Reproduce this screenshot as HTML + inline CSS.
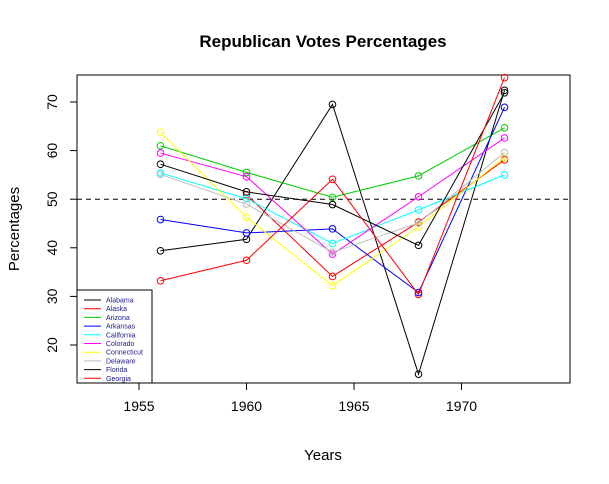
<!DOCTYPE html>
<html><head><meta charset="utf-8"><style>body{margin:0;background:#fff}svg{display:block;font-family:"Liberation Sans",Arial,sans-serif}</style></head>
<body>
<svg id="chart" width="609" height="484" xmlns="http://www.w3.org/2000/svg">
<rect width="609" height="484" fill="#fff"/>
<text x="323" y="47" font-size="17" font-weight="bold" text-anchor="middle">Republican Votes Percentages</text>
<text x="323" y="460" font-size="15" text-anchor="middle">Years</text>
<text transform="translate(19,229) rotate(-90)" font-size="15" text-anchor="middle">Percentages</text>
<g id="axes"></g><g id="marks"></g><g id="legend"></g>
</svg>
<script>
const years=[1956,1960,1964,1968,1972];
const states=["Alabama","Alaska","Arizona","Arkansas","California","Colorado","Connecticut","Delaware","Florida","Georgia"];
const colors=["black","red","#00cd00","blue","cyan","magenta","yellow","#bebebe","black","red"];
const alabama=[39.39,41.75,69.5,14.0,72.4];
const alaska=[null,50.94,34.1,45.3,58.1];
const arizona=[60.99,55.52,50.4,54.8,64.7];
const arkansas=[45.82,43.06,43.9,30.8,68.9];
const california=[55.40,50.10,40.9,47.8,55.0];
const colorado=[59.49,54.63,38.7,50.5,62.6];
const connecticut=[63.73,46.27,32.2,44.3,58.6];
const delaware=[55.09,49.00,39.1,45.1,59.6];
const florida=[57.20,51.51,48.9,40.5,71.9];
const georgia=[33.22,37.44,54.1,30.4,75.0];
const series=[alabama,alaska,arizona,arkansas,california,colorado,connecticut,delaware,florida,georgia];
const xTicks=[1955,1960,1965,1970];
const yTicks=[20,30,40,50,60,70];
const refLine=50;
const NS="http://www.w3.org/2000/svg";
const X=v=>139+(v-1955)*21.5;
const Y=v=>345-(v-20)*4.86;
function mk(p,t,a){const e=document.createElementNS(NS,t);for(const k in a)e.setAttribute(k,a[k]);p.appendChild(e);return e;}
const ax=document.getElementById('axes'),mg=document.getElementById('marks'),lg=document.getElementById('legend');
const box=mk(ax,'rect',{x:77,y:75,width:493,height:308,fill:'none',stroke:'#000'});


xTicks.forEach(t=>{
 const l=mk(ax,'line',{x1:X(t),x2:X(t),y1:383,y2:390,stroke:'#000'});
 
 
 const tx=mk(ax,'text',{x:X(t),y:411,'font-size':14,'text-anchor':'middle'});tx.textContent=t;
 
 
});
yTicks.forEach(t=>{
 const l=mk(ax,'line',{x1:70,x2:77,y1:Y(t),y2:Y(t),stroke:'#000'});
 
 
 const tx=mk(ax,'text',{transform:`translate(57,${Y(t)}) rotate(-90)`,'font-size':14,'text-anchor':'middle'});tx.textContent=t;
 
 
});
const rl=mk(ax,'line',{x1:77,x2:570,y1:Y(refLine),y2:Y(refLine),stroke:'#000','stroke-dasharray':'5,4'});


series.forEach((s,i)=>{
 const g=mk(mg,'g',{});
 
 
 let d='';s.forEach((v,j)=>{if(v==null)return;d+=(d?'L':'M')+X(years[j])+','+Y(v);});
 mk(g,'path',{d,fill:'none',stroke:colors[i]});
 s.forEach((v,j)=>{if(v==null)return;
  const c=mk(g,'circle',{cx:X(years[j]),cy:Y(v),r:3.3,fill:'none',stroke:colors[i]});
  
  
 });
});
const lb=mk(lg,'rect',{x:77,y:290,width:75,height:93,fill:'#fff',stroke:'#000'});


states.forEach((s,i)=>{
 const y=300+i*8.7;
 const g=mk(lg,'g',{});
 
 
 mk(g,'line',{x1:84,x2:101,y1:y,y2:y,stroke:colors[i]});
 const t=mk(g,'text',{x:106,y:y+2.5,'font-size':7,fill:'#1a1a8c'});t.textContent=s;
});
</script>
</body></html>
